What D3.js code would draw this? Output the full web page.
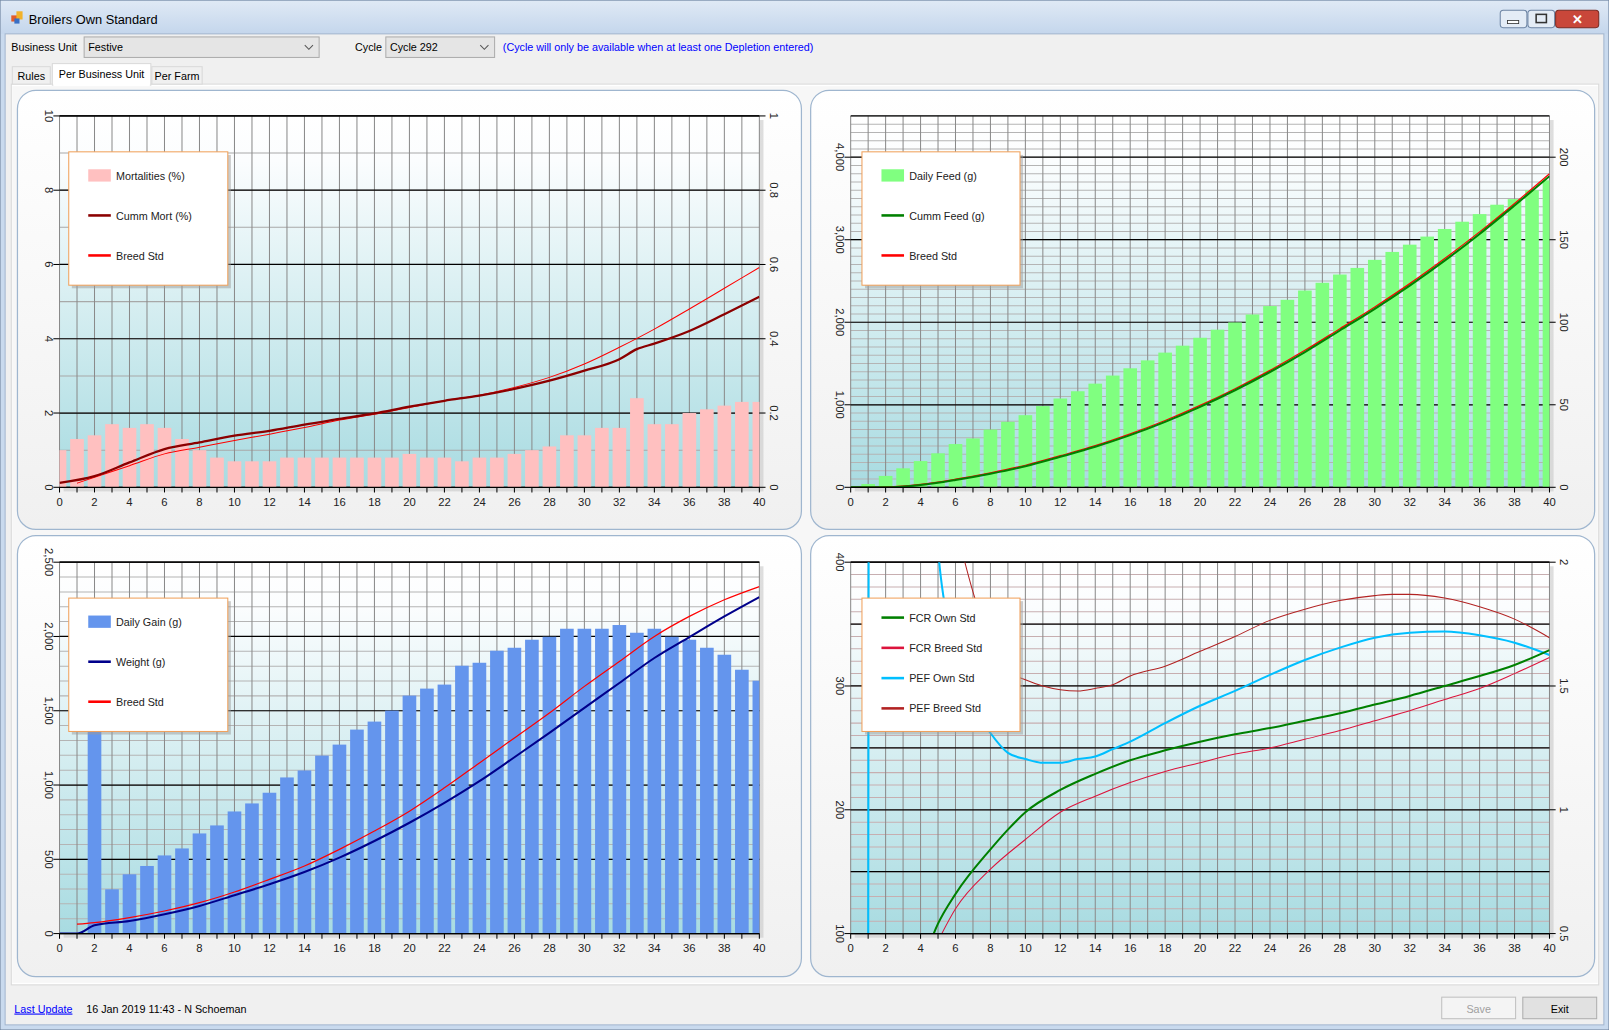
<!DOCTYPE html>
<html><head><meta charset="utf-8">
<script src="https://cdn.jsdelivr.net/npm/d3@7"></script>
<style>body{margin:0;background:#fff;overflow:hidden}text{font-family:"Liberation Sans",Arial,sans-serif}</style>
</head><body>
<svg id="s" width="1609" height="1030" viewBox="0 0 1568 1004" preserveAspectRatio="none"></svg>
<script>
// ---------- DATA ----------
const xTickLabels = [0,2,4,6,8,10,12,14,16,18,20,22,24,26,28,30,32,34,36,38,40];
// Top-left: mortality
const mortBars = [1.0,1.3,1.4,1.7,1.6,1.7,1.6,1.3,1.0,0.8,0.7,0.7,0.7,0.8,0.8,0.8,0.8,0.8,0.8,0.8,0.9,0.8,0.8,0.7,0.8,0.8,0.9,1.0,1.1,1.4,1.4,1.6,1.6,2.4,1.7,1.7,2.0,2.1,2.2,2.3,2.3];
const cummMortDays = [0,2,4,6,8,10,12,14,16,18,20,22,24,26,28,30,32,33,34,36,38,40];
const cummMort = [0.012,0.03,0.067,0.103,0.121,0.139,0.152,0.169,0.184,0.199,0.217,0.233,0.247,0.265,0.287,0.314,0.345,0.372,0.387,0.421,0.466,0.513];
const mortStdDays = [1,2,4,6,8,10,12,14,16,18,20,22,24,26,28,30,32,34,36,38,40];
const mortStd = [0.011,0.027,0.058,0.09,0.108,0.126,0.143,0.161,0.181,0.197,0.215,0.233,0.248,0.269,0.296,0.332,0.377,0.426,0.48,0.536,0.592];
const mortLeftTicks = [0,2,4,6,8,10];
const mortRightTicks = [0,0.2,0.4,0.6,0.8,1];
// Top-right: feed
const feedBars = [0,2,6.9,11.5,15.9,20.6,26.2,29.6,35,39.7,43.7,49.2,53.8,58.2,62.8,67.7,72.1,76.9,81.6,85.8,90.6,95.5,99.9,104.7,109.8,113.6,119.2,123.9,128.9,132.9,137.8,142.6,147,151.9,156.5,160.9,165.5,171.2,174.6,180,186];
const cummFeedDays = [0,2,4,6,8,10,12,14,16,18,20,22,24,26,28,30,32,34,36,38,40];
const cummFeed = [0,0,28,89,165,255,370,491,632,793,975,1176,1397,1639,1900,2163,2444,2746,3070,3415,3770];
const feedStd = [0,5,35,98,176,267,383,505,648,810,993,1195,1417,1660,1922,2186,2468,2772,3095,3440,3800];
const feedLeftTicks = [0,1000,2000,3000,4000];
const feedRightTicks = [0,50,100,150,200];
// Bottom-left: gain/weight
const gainBars = [0,0,1450,298,399,455,526,573,674,728,822,876,948,1051,1098,1198,1272,1373,1427,1501,1602,1649,1676,1803,1823,1904,1924,1978,1998,2052,2052,2052,2077,2025,2052,1998,1978,1924,1877,1776,1702];
const weightDays = [0,1,2,4,6,8,10,12,14,16,18,20,22,24,26,28,30,32,34,36,38,40];
const weight = [0,0,56,85,130,186,258,332,414,511,623,746,880,1026,1187,1351,1519,1687,1855,1996,2135,2265];
const weightStdDays = [1,2,4,6,8,10,12,14,16,18,20,22,24,26,28,30,32,34,36,38,40];
const weightStd = [63,74,108,152,208,280,365,455,567,690,824,981,1149,1317,1485,1664,1832,2000,2135,2247,2336];
const weightLeftTicks = [0,500,1000,1500,2000,2500];
// Bottom-right: FCR / PEF
const fcrOwnDays = [4,5,6,8,9,10,12,14,16,18,20,22,24,26,28,30,32,34,36,38,40];
const fcrOwn = [0.36,0.54,0.66,0.84,0.92,0.99,1.08,1.145,1.2,1.24,1.275,1.305,1.33,1.36,1.39,1.425,1.46,1.5,1.54,1.585,1.645];
const fcrStdDays = [5,6,8,10,12,14,16,18,20,22,24,26,28,30,32,34,36,38,40];
const fcrStd = [0.47,0.6,0.76,0.88,0.99,1.055,1.11,1.155,1.19,1.225,1.25,1.285,1.32,1.36,1.4,1.445,1.49,1.55,1.615];
const pefOwnDays = [1,2,3,4,5,6,7,8,9,10,11,12,13,14,15,16,18,20,22,24,26,28,30,32,34,36,38,40];
const pefOwn = [40,9000,1500,650,410,330,285,262,246,241,238,238,241,243,249,255,270,284,296,309,321,331,339,343,344,341,335,325];
const pefStdDays = [6,7,8,9,10,11,12,13,14,15,16,18,20,22,24,26,28,30,31,32,34,36,38,40];
const pefStd = [430,376,335,312,305,300,297,296,298,301,308,316,328,340,353,362,369,373,374,374,371,364,354,339];
const pefLeftTicks = [100,200,300,400];
const fcrRightTicks = [0.5,1,1.5,2];

// ---------- WINDOW CHROME ----------
const svg = d3.select("#s");
const defs = svg.append("defs");
const tg = defs.append("linearGradient").attr("id","title").attr("x1",0).attr("y1",0).attr("x2",0).attr("y2",1);
tg.append("stop").attr("offset",0).attr("stop-color","#dfe9f5");
tg.append("stop").attr("offset",1).attr("stop-color","#c4d6ec");
const pg = defs.append("linearGradient").attr("id","plotbg").attr("x1",0).attr("y1",0).attr("x2",0).attr("y2",1);
pg.append("stop").attr("offset",0).attr("stop-color","#ffffff");
pg.append("stop").attr("offset",0.12).attr("stop-color","#fbfdfe");
pg.append("stop").attr("offset",1).attr("stop-color","#a8dbe1");
const panelg = defs.append("linearGradient").attr("id","panelbg").attr("x1",0).attr("y1",0).attr("x2",0).attr("y2",1);
panelg.append("stop").attr("offset",0).attr("stop-color","#ffffff");
panelg.append("stop").attr("offset",1).attr("stop-color","#f0f0f0");

svg.append("rect").attr("x",0).attr("y",0).attr("width",1568).attr("height",1004).attr("fill","#c9daee").attr("stroke","#6b7f99");
svg.append("rect").attr("x",1).attr("y",1).attr("width",1566).attr("height",32).attr("fill","url(#title)");
svg.append("rect").attr("x",5).attr("y",33).attr("width",1558).attr("height",966).attr("fill","#f0f0f0").attr("stroke","#a3b6cf");
// icon
svg.append("rect").attr("x",11).attr("y",15).attr("width",6).attr("height",6).attr("fill","#e25b2b");
svg.append("rect").attr("x",16).attr("y",11).attr("width",6).attr("height",8).attr("fill","#f2b22a");
svg.append("rect").attr("x",14).attr("y",18).attr("width",5).attr("height",5).attr("fill","#3a6fc4");
svg.append("text").attr("x",28).attr("y",23).attr("font-size",12.5).attr("fill","#000").text("Broilers Own Standard");
// window buttons
[[1462,26],[1489,26]].forEach(([x,w])=>{
  svg.append("rect").attr("x",x).attr("y",10).attr("width",w).attr("height",17).attr("rx",3).attr("fill","#e4ecf6").attr("stroke","#6d84a3");
});
svg.append("rect").attr("x",1469).attr("y",20).attr("width",11).attr("height",3).attr("fill","#fff").attr("stroke","#333").attr("stroke-width",0.8);
svg.append("rect").attr("x",1497).attr("y",14).attr("width",10).attr("height",8).attr("fill","none").attr("stroke","#333").attr("stroke-width",1.5);
svg.append("rect").attr("x",1516).attr("y",10).attr("width",42).attr("height",17).attr("rx",3).attr("fill","#c9473a").attr("stroke","#7a2a22");
svg.append("text").attr("x",1537).attr("y",23).attr("text-anchor","middle").attr("font-size",13).attr("font-weight","bold").attr("fill","#fff").text("✕");

// controls
svg.append("text").attr("x",11).attr("y",50).attr("font-size",10.5).text("Business Unit");
svg.append("rect").attr("x",82).attr("y",36).attr("width",229).attr("height",20).attr("fill","#e5e5e5").attr("stroke","#acacac");
svg.append("text").attr("x",86).attr("y",50).attr("font-size",10.5).text("Festive");
svg.append("path").attr("d","M297,44 l4,4 l4,-4").attr("fill","none").attr("stroke","#555");
svg.append("text").attr("x",346).attr("y",50).attr("font-size",10.5).text("Cycle");
svg.append("rect").attr("x",376).attr("y",36).attr("width",106).attr("height",20).attr("fill","#e5e5e5").attr("stroke","#acacac");
svg.append("text").attr("x",380).attr("y",50).attr("font-size",10.5).text("Cycle 292");
svg.append("path").attr("d","M468,44 l4,4 l4,-4").attr("fill","none").attr("stroke","#555");
svg.append("text").attr("x",490).attr("y",50).attr("font-size",10.5).attr("fill","#0000ff").text("(Cycle will only be available when at least one Depletion entered)");
// tabs
svg.append("rect").attr("x",11).attr("y",82).attr("width",1547).attr("height",878).attr("fill","#ffffff").attr("stroke","#d9d9d9");
[[12,37,"Rules"],[148,49,"Per Farm"]].forEach(([x,w,t])=>{
  svg.append("rect").attr("x",x).attr("y",65).attr("width",w).attr("height",17).attr("fill","#f0f0f0").attr("stroke","#d9d9d9");
  svg.append("text").attr("x",x+w/2).attr("y",78).attr("text-anchor","middle").attr("font-size",10.5).text(t);
});
svg.append("rect").attr("x",51).attr("y",62).attr("width",96).attr("height",21).attr("fill","#ffffff").attr("stroke","#d9d9d9");
svg.append("rect").attr("x",52).attr("y",80).attr("width",94).attr("height",4).attr("fill","#ffffff");
svg.append("text").attr("x",99).attr("y",76).attr("text-anchor","middle").attr("font-size",10.5).text("Per Business Unit");
svg.append("rect").attr("x",12).attr("y",84).attr("width",1545).attr("height",874).attr("fill","#f7f7f7");

// bottom
svg.append("text").attr("x",14).attr("y",987).attr("font-size",10.5).attr("fill","#0000ff").attr("text-decoration","underline").text("Last Update");
svg.append("text").attr("x",84).attr("y",987).attr("font-size",10.5).text("16 Jan 2019 11:43 - N Schoeman");
svg.append("rect").attr("x",1405).attr("y",972).attr("width",72).attr("height",21).attr("fill","#f4f4f4").attr("stroke","#bfbfbf");
svg.append("text").attr("x",1441).attr("y",987).attr("text-anchor","middle").attr("font-size",10.5).attr("fill","#a0a0a0").text("Save");
svg.append("rect").attr("x",1484).attr("y",972).attr("width",72).attr("height",21).attr("fill","#e1e1e1").attr("stroke","#adadad");
svg.append("text").attr("x",1520).attr("y",987).attr("text-anchor","middle").attr("font-size",10.5).text("Exit");

// ---------- CHARTS ----------
let clipId = 0;
function chart(c){
  const g = svg.append("g");
  g.append("rect").attr("x",c.panel[0]).attr("y",c.panel[1]).attr("width",c.panel[2]).attr("height",c.panel[3])
    .attr("rx",18).attr("fill","url(#panelbg)").attr("stroke","#9fb6cf").attr("stroke-width",1.2);
  const x = d3.scaleLinear().domain([0,40]).range([c.x0,c.x1]);
  const yL = d3.scaleLinear().domain(c.leftDomain).range([c.y1,c.y0]);
  const yR = d3.scaleLinear().domain(c.rightDomain).range([c.y1,c.y0]);
  g.append("rect").attr("x",c.x0+4).attr("y",c.y0+4).attr("width",c.x1-c.x0).attr("height",c.y1-c.y0).attr("fill","#c8c8c8").attr("opacity",0.6);
  g.append("rect").attr("x",c.x0).attr("y",c.y0).attr("width",c.x1-c.x0).attr("height",c.y1-c.y0).attr("fill","url(#plotbg)");
  d3.range(c.leftDomain[0],c.leftDomain[1]+1e-9,c.minorStep).forEach(v=>{
    g.append("line").attr("x1",c.x0).attr("x2",c.x1).attr("y1",yL(v)).attr("y2",yL(v)).attr("stroke",c.minorColor).attr("stroke-width",1);
  });
  d3.range(0,41).forEach(d=>{
    g.append("line").attr("x1",x(d)).attr("x2",x(d)).attr("y1",c.y0).attr("y2",c.y1).attr("stroke","#8a8a8a").attr("stroke-width",1);
  });
  d3.range(c.leftDomain[0],c.leftDomain[1]+1e-9,c.majorStep).forEach(v=>{
    g.append("line").attr("x1",c.x0).attr("x2",c.x1).attr("y1",yL(v)).attr("y2",yL(v)).attr("stroke","#000").attr("stroke-width",1.2);
  });
  g.append("line").attr("x1",c.x0).attr("x2",c.x1).attr("y1",c.y0).attr("y2",c.y0).attr("stroke","#000").attr("stroke-width",1.2);
  const id = "clip"+(clipId++);
  defs.append("clipPath").attr("id",id).append("rect").attr("x",c.x0).attr("y",c.y0).attr("width",c.x1-c.x0).attr("height",c.y1-c.y0);
  const pl = g.append("g").attr("clip-path",`url(#${id})`);
  const bw = (x(1)-x(0))*0.78;
  if(c.bars){
    const ys = c.bars.axis==="right"?yR:yL;
    pl.selectAll(".b").data(c.bars.values).join("rect")
      .attr("x",(v,i)=>x(i)-bw/2).attr("width",bw)
      .attr("y",v=>ys(v)).attr("height",v=>c.y1-ys(v)).attr("fill",c.bars.color);
  }
  c.lines.forEach(L=>{
    const ys = L.axis==="right"?yR:yL;
    const line = d3.line().x((v,i)=>x(L.days[i])).y(v=>ys(v)).curve(d3.curveMonotoneX);
    pl.append("path").attr("d",line(L.values)).attr("fill","none").attr("stroke",L.color).attr("stroke-width",L.width);
  });
  g.append("line").attr("x1",c.x0).attr("x2",c.x1).attr("y1",c.y1).attr("y2",c.y1).attr("stroke","#000").attr("stroke-width",1.2);
  d3.range(0,41).forEach(d=>{
    g.append("line").attr("x1",x(d)).attr("x2",x(d)).attr("y1",c.y1).attr("y2",c.y1+5).attr("stroke","#000");
  });
  xTickLabels.forEach(d=>{
    g.append("text").attr("x",x(d)).attr("y",c.y1+18).attr("text-anchor","middle").attr("font-size",11).attr("fill","#222").text(d);
  });
  const fmt = d3.format(",");
  c.leftTicks.forEach(v=>{
    g.append("line").attr("x1",c.x0-6).attr("x2",c.x0).attr("y1",yL(v)).attr("y2",yL(v)).attr("stroke","#000");
    g.append("text").attr("transform",`translate(${c.x0-14},${yL(v)}) rotate(90)`).attr("text-anchor","middle").attr("font-size",11).attr("fill","#222").text(fmt(v));
  });
  if(c.rightTicks){
    c.rightTicks.forEach(v=>{
      g.append("line").attr("x1",c.x1).attr("x2",c.x1+6).attr("y1",yR(v)).attr("y2",yR(v)).attr("stroke","#000");
      g.append("text").attr("transform",`translate(${c.x1+10},${yR(v)}) rotate(90)`).attr("text-anchor","middle").attr("font-size",11).attr("fill","#222").text(v);
    });
  }
  const lg = c.legend;
  g.append("rect").attr("x",lg.x+3).attr("y",lg.y+3).attr("width",lg.w).attr("height",lg.h).attr("fill","#999").attr("opacity",0.5);
  g.append("rect").attr("x",lg.x).attr("y",lg.y).attr("width",lg.w).attr("height",lg.h).attr("fill","#fff").attr("stroke","#f0a05a");
  lg.items.forEach((it,i)=>{
    const yy = lg.y+lg.first+i*lg.step;
    if(it.type==="bar") g.append("rect").attr("x",lg.x+19).attr("y",yy-6).attr("width",22).attr("height",12).attr("fill",it.color);
    else g.append("line").attr("x1",lg.x+19).attr("x2",lg.x+41).attr("y1",yy).attr("y2",yy).attr("stroke",it.color).attr("stroke-width",it.width||2.5);
    g.append("text").attr("x",lg.x+46).attr("y",yy+4).attr("font-size",10.5).attr("fill","#222").text(it.label);
  });
}

chart({panel:[17,88,764,428],x0:58,x1:740,y0:113,y1:475,leftDomain:[0,10],rightDomain:[0,1],
  majorStep:2,minorStep:1,minorColor:"#a8a8a8",leftTicks:mortLeftTicks,rightTicks:mortRightTicks,
  bars:{values:mortBars,color:"#ffc0c0",axis:"left"},
  lines:[{days:mortStdDays,values:mortStd,color:"#ff0000",width:1,axis:"right"},
         {days:cummMortDays,values:cummMort,color:"#8b0000",width:2.2,axis:"right"}],
  legend:{x:67,y:148,w:155,h:130,first:23,step:39,items:[
    {type:"bar",color:"#ffc0c0",label:"Mortalities (%)"},
    {type:"line",color:"#8b0000",label:"Cumm Mort (%)"},
    {type:"line",color:"#ff0000",label:"Breed Std"}]}});

chart({panel:[790,88,764,428],x0:829,x1:1510,y0:113,y1:475,leftDomain:[0,4500],rightDomain:[0,225],
  majorStep:1000,minorStep:100,minorColor:"#b4b4b4",leftTicks:feedLeftTicks,rightTicks:feedRightTicks,
  bars:{values:feedBars,color:"#80ff80",axis:"right"},
  lines:[{days:cummFeedDays,values:feedStd,color:"#ff0000",width:1.2,axis:"left"},
         {days:cummFeedDays,values:cummFeed,color:"#008000",width:2,axis:"left"}],
  legend:{x:840,y:148,w:154,h:130,first:23,step:39,items:[
    {type:"bar",color:"#80ff80",label:"Daily Feed (g)"},
    {type:"line",color:"#008000",label:"Cumm Feed (g)"},
    {type:"line",color:"#ff0000",label:"Breed Std"}]}});

chart({panel:[17,522,764,430],x0:58,x1:740,y0:548,y1:910,leftDomain:[0,2500],rightDomain:[0,2500],
  majorStep:500,minorStep:100,minorColor:"#b4b4b4",leftTicks:weightLeftTicks,rightTicks:null,
  bars:{values:gainBars,color:"#6495ed",axis:"left"},
  lines:[{days:weightStdDays,values:weightStd,color:"#ff0000",width:1.2,axis:"left"},
         {days:weightDays,values:weight,color:"#00008b",width:2,axis:"left"}],
  legend:{x:67,y:583,w:155,h:130,first:23,step:39,items:[
    {type:"bar",color:"#6495ed",label:"Daily Gain (g)"},
    {type:"line",color:"#00008b",label:"Weight (g)"},
    {type:"line",color:"#ff0000",label:"Breed Std"}]}});

chart({panel:[790,522,764,430],x0:829,x1:1510,y0:548,y1:910,leftDomain:[100,400],rightDomain:[0.5,2],
  majorStep:50,minorStep:10,minorColor:"#c7aeb0",leftTicks:pefLeftTicks,rightTicks:fcrRightTicks,
  bars:null,
  lines:[{days:pefStdDays,values:pefStd,color:"#b22222",width:1,axis:"left"},
         {days:pefOwnDays,values:pefOwn,color:"#00bfff",width:2,axis:"left"},
         {days:fcrStdDays,values:fcrStd,color:"#dc143c",width:1,axis:"right"},
         {days:fcrOwnDays,values:fcrOwn,color:"#008000",width:2,axis:"right"}],
  legend:{x:840,y:583,w:154,h:130,first:19,step:29.5,items:[
    {type:"line",color:"#008000",label:"FCR Own Std"},
    {type:"line",color:"#dc143c",label:"FCR Breed Std"},
    {type:"line",color:"#00bfff",label:"PEF Own Std"},
    {type:"line",color:"#b22222",label:"PEF Breed Std"}]}});
</script>
</body></html>
